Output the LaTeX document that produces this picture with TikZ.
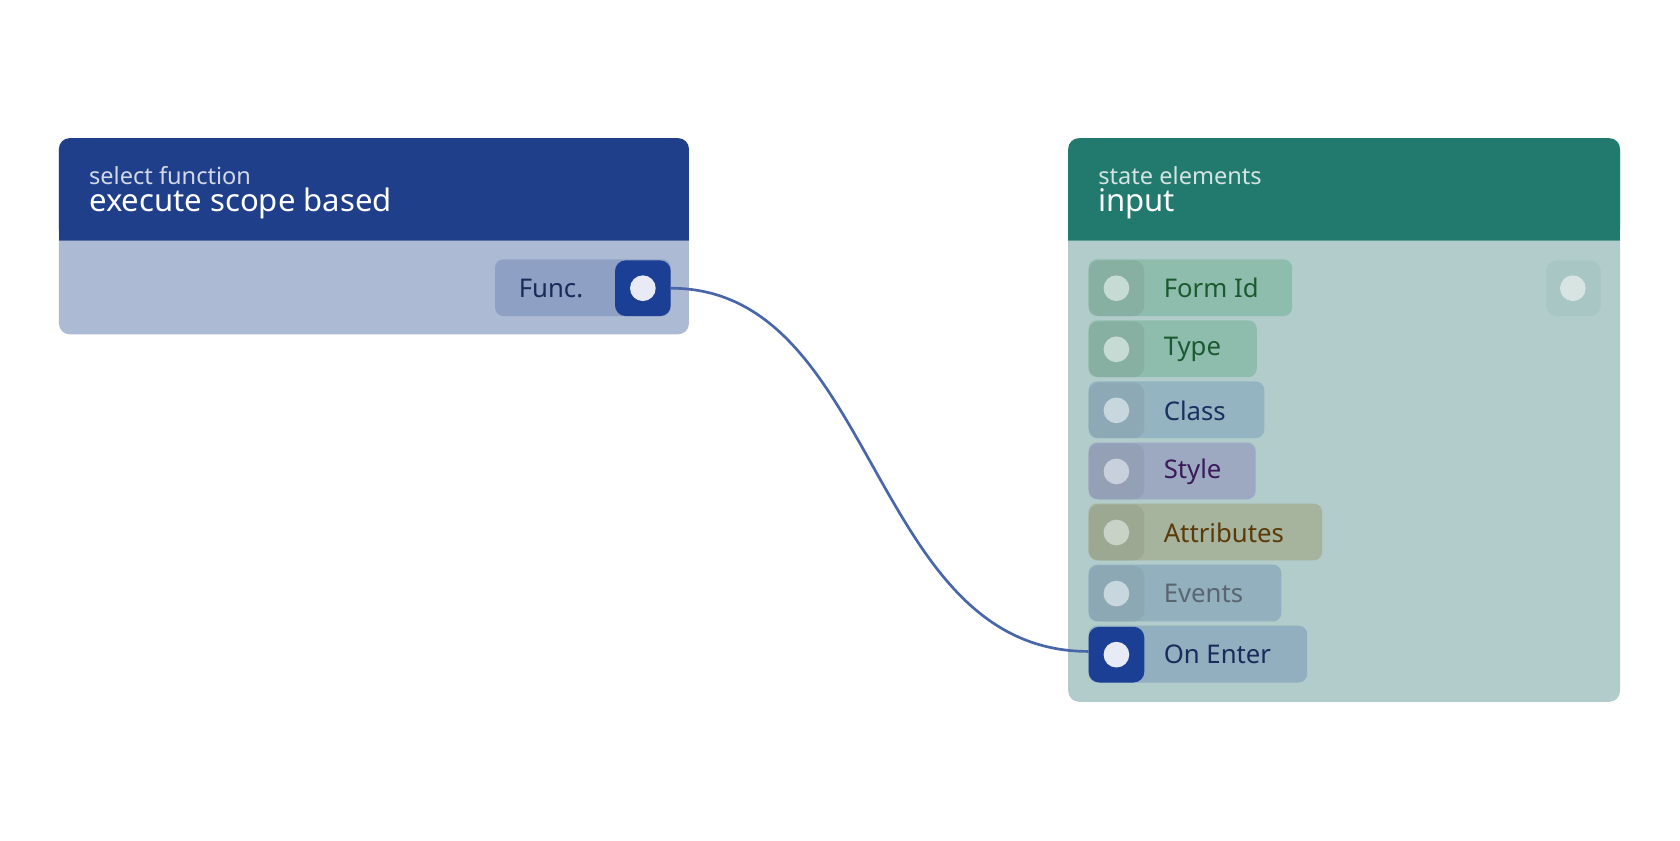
\documentclass[tikz,border=0pt]{standalone}
\usepackage{fontspec}
\setmainfont{Noto Sans}
\begin{document}
\begin{tikzpicture}[x=1pt,y=-1pt,
  sub/.style={anchor=base west,inner sep=0,font=\fontsize{22}{22}\selectfont},
  ttl/.style={anchor=base west,inner sep=0,text=white,font=\fontsize{29}{29}\selectfont},
  lbl/.style={anchor=west,inner sep=0,font=\fontsize{24}{24}\selectfont},
  dot/.style={circle,minimum size=24,inner sep=0}]
\useasboundingbox (0,0) rectangle (1568,784);
\definecolor{hb}{HTML}{1F3F8A}\definecolor{bb}{HTML}{ADBAD4}
\definecolor{hg}{HTML}{227A6F}\definecolor{bg}{HTML}{B1CCCB}
\definecolor{port}{HTML}{1A3F94}\definecolor{pdot}{HTML}{E8EBF5}
\definecolor{fpill}{HTML}{8EA0C4}\definecolor{ftext}{HTML}{1A2A5A}
\definecolor{opc}{HTML}{A8C6C4}\definecolor{opd}{HTML}{D8E4E2}
\definecolor{wire}{HTML}{4A66AA}
% left node
\fill[bb,rounded corners=10] (55,129) rectangle (643,312);
\fill[hb,rounded corners=10] (55,129) rectangle (643,224);
\fill[hb] (55,200) rectangle (643,224);
\draw[color=hb!60!bb,line width=1.5] (55,224.5) -- (643,224.5);
\node[sub,text=hb!20!white] (ls) at (83,172) {select function};
\node[ttl] (lt) at (83,197) {execute scope based};
\fill[fpill,rounded corners=8] (462,242) rectangle (626,295);
\node[lbl,text=ftext] (fl) at (484,269) {Func.};
\fill[port,rounded corners=10] (574,243) rectangle (626,295);
\node[dot,fill=pdot] (fp) at (600,269) {};
% right node
\fill[bg,rounded corners=10] (997,129) rectangle (1512,655);
\fill[hg,rounded corners=10] (997,129) rectangle (1512,224);
\fill[hg] (997,200) rectangle (1512,224);
\draw[color=hg!60!bg,line width=1.5] (997,224.5) -- (1512,224.5);
\node[sub,text=hg!20!white] (rs) at (1025,172) {state elements};
\node[ttl] (rt) at (1025,197) {input};
\fill[opc,rounded corners=10] (1443,243) rectangle (1494,295);
\node[dot,fill=opd] (op) at (1468,269) {};
\foreach \y/\r/\pc/\qc/\dc/\tc/\t/\n in {
  269/1206/8FBDAD/88B0A2/C5DBD4/1B5A30/Form Id/a,
  326/1173/8FBDAD/88B0A2/C5DBD4/1B5A30/Type/b,
  383/1180/94B4C1/8CA9B5/C8D6DE/1A3060/Class/c,
  440/1172/9DA9C1/94A0B5/C8D0DC/3A1A5A/Style/d,
  497/1234/A6B39D/9DA893/C9D2C6/5A3A0A/Attributes/e,
  554/1196/93B0BF/8CA8B5/C8D6DE/5A6570/Events/f,
  611/1220/91AFBF/1A3F94/E8EBF5/1A2A5A/On Enter/g}{
  \definecolor{cp}{HTML}{\pc}\definecolor{cq}{HTML}{\qc}
  \definecolor{cd}{HTML}{\dc}\definecolor{ct}{HTML}{\tc}
  \fill[cp,rounded corners=8] (1016,\y-27) rectangle (\r,\y+26);
  \fill[cq,rounded corners=10] (1016,\y-26) rectangle (1068,\y+26);
  \node[dot,fill=cd] (p\n) at (1042,\y) {};
  \node[lbl,text=ct] (t\n) at (1086,\y) {\t};
}
\coordinate (s) at (626,269);
\coordinate (e) at (1016,608);
\draw[wire,line width=2.5] (s) .. controls (820,269) and (810,608) .. (e);
\end{tikzpicture}
\end{document}
